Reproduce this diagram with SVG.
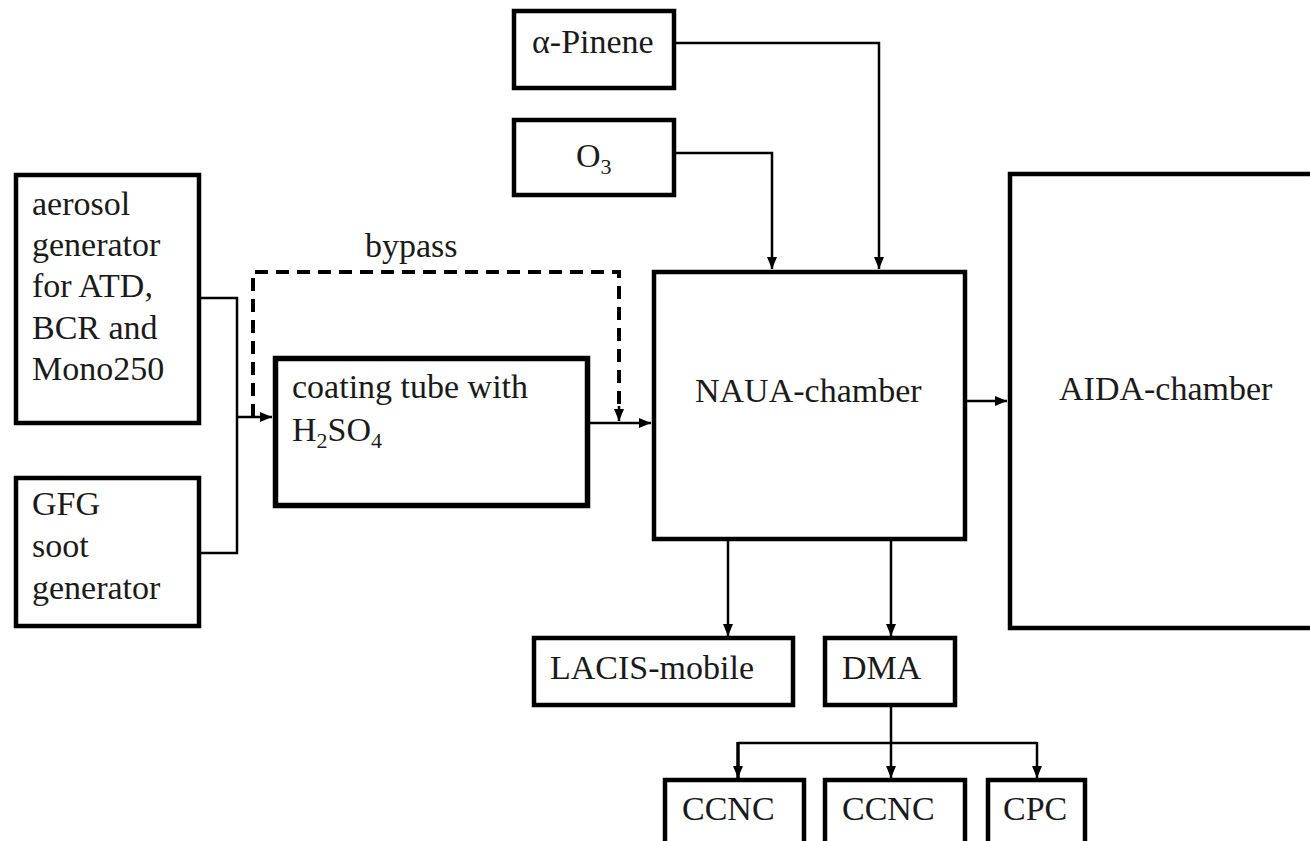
<svg xmlns="http://www.w3.org/2000/svg" width="1310" height="841" viewBox="0 0 1310 841">
<defs>
<marker id="ah" markerUnits="userSpaceOnUse" markerWidth="12" markerHeight="10" viewBox="0 0 12 10" refX="12" refY="5" orient="auto">
<path d="M0,0 L12,5 L0,10 Z" fill="#000"/>
</marker>
</defs>
<style>
.box{fill:#fff;stroke:#000;stroke-width:4.5}
.t{font-family:'Liberation Serif',serif;font-size:34px;fill:#1a1a1a}
.sub{font-size:22px}
.c{fill:none;stroke:#000;stroke-width:2.5}
.a{marker-end:url(#ah)}
.d{fill:none;stroke:#000;stroke-width:4;stroke-dasharray:13,8}
</style>
<rect width="1310" height="841" fill="#fff"/>

<g id="connectors">
<path class="c" d="M201,298 H237 V553 H201"/>
<path class="c a" d="M237,417 H272"/>
<path class="d" d="M253,417 V272 H619 V408"/>
<path class="c a" d="M619,406 V421"/>
<path class="c a" d="M590,423 H651"/>
<path class="c a" d="M676,43 H879 V269"/>
<path class="c a" d="M676,153 H772 V269"/>
<path class="c a" d="M967,401 H1007"/>
<path class="c a" d="M728,541 V636"/>
<path class="c a" d="M891,541 V636"/>
<path class="c a" d="M891,707 V778"/>
<path class="c" d="M738,743 H1037"/>
<path class="c a" d="M738,742 V778" style="stroke-width:3.5"/>
<path class="c a" d="M1037,742 V778"/>
</g>

<g font-family="Liberation Serif, serif">
<g id="aerosol">
<rect class="box" x="16" y="175" width="183" height="248"/>
<text class="t" x="32" y="215">aerosol</text>
<text class="t" x="32" y="256">generator</text>
<text class="t" x="32" y="297">for ATD,</text>
<text class="t" x="32" y="339">BCR and</text>
<text class="t" x="32" y="380">Mono250</text>
</g>

<g id="gfg">
<rect class="box" x="16" y="478" width="183" height="148"/>
<text class="t" x="32" y="515">GFG</text>
<text class="t" x="32" y="557">soot</text>
<text class="t" x="32" y="599">generator</text>
</g>

<g id="coating">
<rect class="box" x="275.5" y="358.5" width="312" height="147" style="stroke-width:5.5"/>
<text class="t" x="292" y="398">coating tube with</text>
<text class="t" x="292" y="441">H<tspan class="sub" dy="7">2</tspan><tspan dy="-7">SO</tspan><tspan class="sub" dy="7">4</tspan></text>
</g>

<g id="bypass">
<text class="t" x="365" y="257">bypass</text>
</g>

<g id="pinene">
<rect class="box" x="514" y="11" width="160" height="77"/>
<text class="t" x="532" y="53">α-Pinene</text>
</g>

<g id="o3">
<rect class="box" x="514" y="120" width="160" height="75"/>
<text class="t" x="576" y="167">O<tspan class="sub" dy="7">3</tspan></text>
</g>

<g id="naua">
<rect class="box" x="654" y="272" width="311" height="267"/>
<text class="t" x="695" y="402">NAUA-chamber</text>
</g>

<g id="aida">
<rect class="box" x="1010" y="174" width="320" height="454"/>
<text class="t" x="1059" y="400">AIDA-chamber</text>
</g>

<g id="lacis">
<rect class="box" x="534" y="638" width="259" height="67"/>
<text class="t" x="550" y="679">LACIS-mobile</text>
</g>

<g id="dma">
<rect class="box" x="825" y="638" width="130" height="67"/>
<text class="t" x="842" y="679">DMA</text>
</g>

<g id="ccnc1">
<rect class="box" x="665" y="780" width="139" height="80"/>
<text class="t" x="682" y="820">CCNC</text>
</g>

<g id="ccnc2">
<rect class="box" x="825" y="780" width="140" height="80"/>
<text class="t" x="842" y="820">CCNC</text>
</g>

<g id="cpc">
<rect class="box" x="988" y="780" width="97" height="80"/>
<text class="t" x="1003" y="820">CPC</text>
</g>
</g>
</svg>
